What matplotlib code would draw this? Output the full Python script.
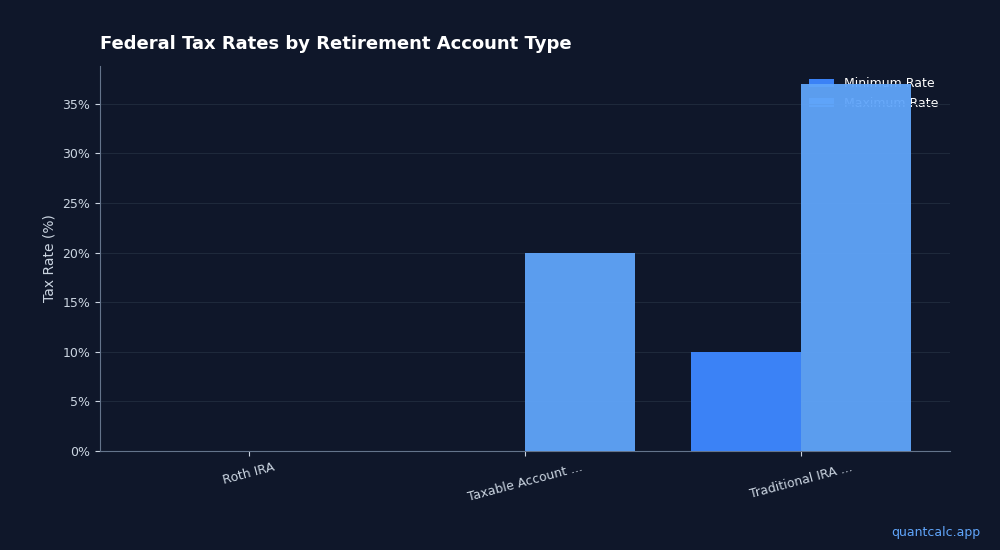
import matplotlib
matplotlib.use("Agg")
import matplotlib.pyplot as plt
import numpy as np

categories = ["Roth IRA", "Taxable Account ...", "Traditional IRA ..."]
min_rate = [0, 0, 10]
max_rate = [0, 20, 37]

bg = "#0f172a"
fig = plt.figure(figsize=(10, 5.5), dpi=100, facecolor=bg)
ax = fig.add_axes([0.1, 0.18, 0.85, 0.7])
ax.set_facecolor(bg)
x = np.arange(len(categories))
w = 0.4
ax.bar(x - w/2, min_rate, w, color="#3b82f6", label="Minimum Rate", zorder=3)
ax.bar(x + w/2, max_rate, w, color="#60a5fa", alpha=0.95, label="Maximum Rate", zorder=3)
ax.set_xlim(-0.54, 2.54)
ax.set_ylim(0, 38.8)
ax.set_yticks(range(0, 36, 5))
ax.set_yticklabels([f"{v}%" for v in range(0, 36, 5)])
ax.set_xticks(x)
ax.set_xticklabels(categories, rotation=15)
ax.tick_params(colors="#cbd5e1", labelsize=9)
ax.grid(axis="y", color="#1e293b", linewidth=0.8, zorder=0)
for s in ["top", "right"]:
    ax.spines[s].set_visible(False)
for s in ["left", "bottom"]:
    ax.spines[s].set_color("#64748b")
ax.set_ylabel("Tax Rate (%)", color="#cbd5e1", fontsize=10)
ax.set_title("Federal Tax Rates by Retirement Account Type", color="white",
             fontsize=13, fontweight="bold", loc="left", pad=12)
leg = ax.legend(loc="upper right", frameon=False, fontsize=9, labelcolor="white")
leg.set_zorder(1)
fig.text(0.98, 0.025, "quantcalc.app", color="#60a5fa", fontsize=9, ha="right")
fig.savefig("out.png", facecolor=bg)
